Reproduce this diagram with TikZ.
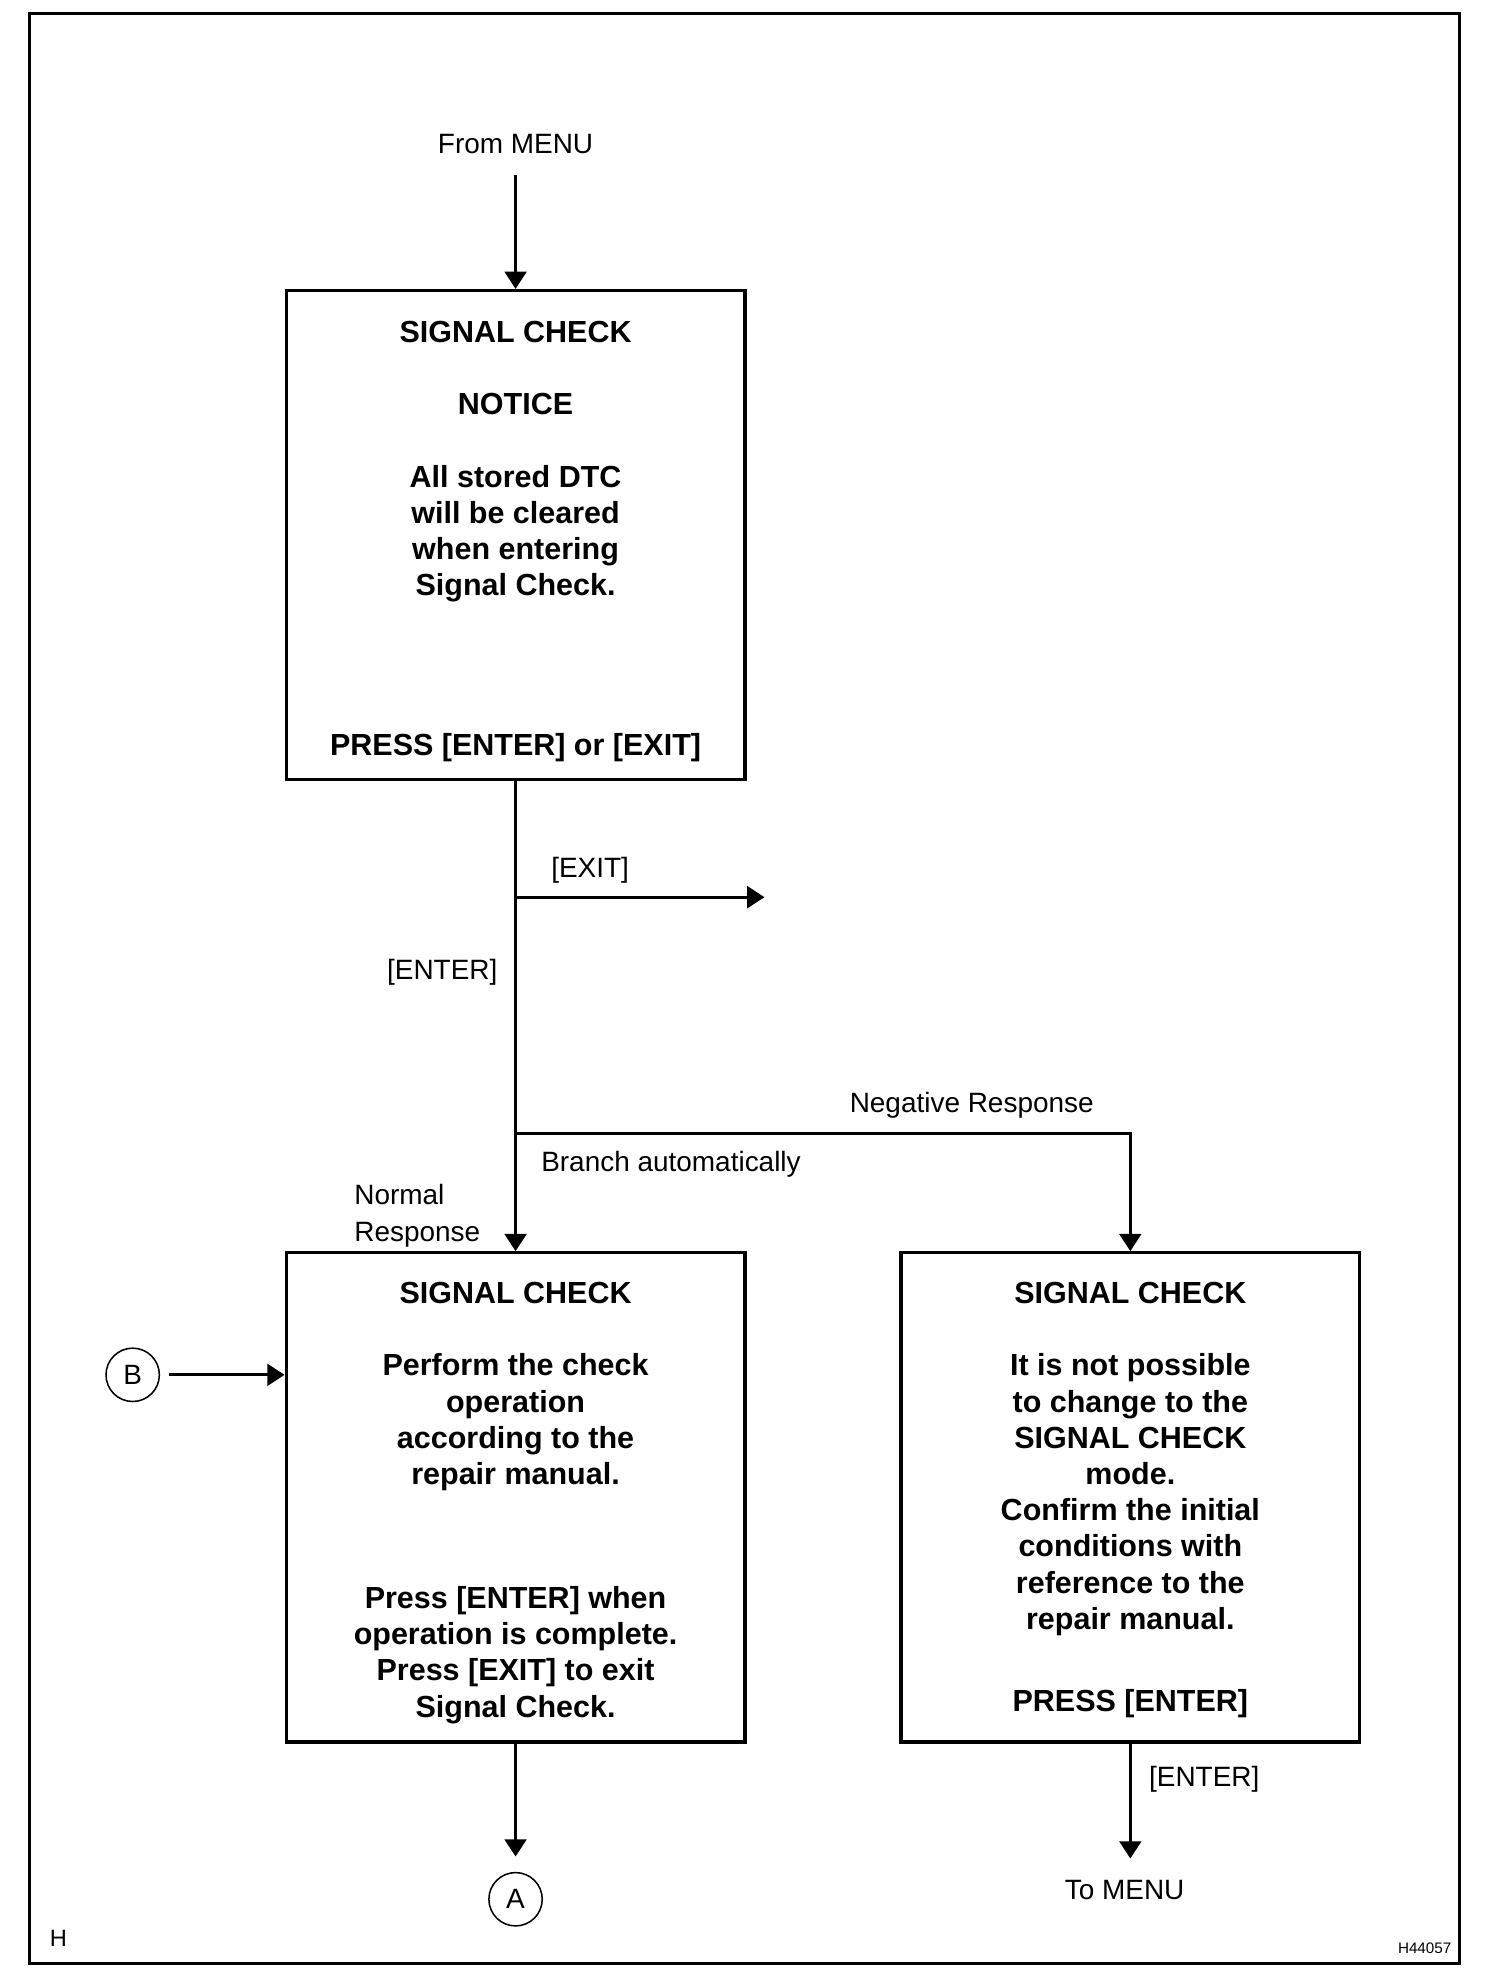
\documentclass[tikz,border=0pt]{standalone}
\usepackage{fontspec}
\setmainfont{Liberation Sans}
\usetikzlibrary{arrows.meta,positioning}

\begin{document}
\begin{tikzpicture}[x=0.4973pt,y=-0.4973pt,
  box/.style={draw, line width=1.3pt, minimum width=180.5pt, minimum height=192.5pt, inner sep=0pt},
  boxtext/.style={align=center, inner sep=0pt, font=\bfseries\fontsize{12}{14.25}\selectfont},
  lbl/.style={inner sep=0pt, font=\fontsize{11}{14.5}\selectfont},
  ref/.style={draw, circle, line width=0.6pt, minimum size=21pt, inner sep=0pt, font=\fontsize{11}{13}\selectfont},
  link/.style={line width=1.3pt, -{Triangle[length=6.8pt,width=8.5pt]}}]
\useasboundingbox (0,0) rectangle (1190.5,1568.5);
\draw[line width=1.2pt] (23.5,11) rectangle (1155,1553.5);

% boxes
\node[box] (notice) at (408,423.5) {};
\node[box] (check) at (408,1185) {};
\node[box] (fail) at (894.5,1185) {};

\node[boxtext, anchor=north] (noticetop) at ([yshift=-12.5pt]notice.north)
  {SIGNAL CHECK\\[14.25pt]NOTICE\\[14.25pt]All stored DTC\\will be cleared\\when entering\\Signal Check.};
\node[boxtext, anchor=south] (noticebot) at ([yshift=7.4pt]notice.south) {PRESS [ENTER] or [EXIT]};
\node[boxtext, anchor=north] (checktop) at ([yshift=-12pt]check.north)
  {SIGNAL CHECK\\[14.25pt]Perform the check\\operation\\according to the\\repair manual.};
\node[boxtext, anchor=south] (checkbot) at ([yshift=7.7pt]check.south)
  {Press [ENTER] when\\operation is complete.\\Press [EXIT] to exit\\Signal Check.};
\node[boxtext, anchor=north] (failtop) at ([yshift=-12pt]fail.north)
  {SIGNAL CHECK\\[14.25pt]It is not possible\\to change to the\\SIGNAL CHECK\\mode.\\Confirm the initial\\conditions with\\reference to the\\repair manual.};
\node[boxtext, anchor=south] (failbot) at ([yshift=10pt]fail.south) {PRESS [ENTER]};

% labels
\node[lbl] (frommenu) at (408,114) {From MENU};
\node[lbl] (exitlbl) at (467,689) {[EXIT]};
\node[lbl] (enterlbl) at (350,769.5) {[ENTER]};
\node[lbl] (neglbl) at (769,875) {Negative Response};
\node[lbl] (branchlbl) at (531,921) {Branch automatically};
\node[lbl, align=left, anchor=west] (normallbl) at (280,962) {Normal\\Response};
\node[lbl] (enter2lbl) at (953,1408) {[ENTER]};
\node[lbl] (tomenu) at (890,1496) {To MENU};
\node[lbl, font=\fontsize{9.3}{11}\selectfont] (hmark) at (46.3,1534) {H};
\node[lbl, font=\fontsize{6}{7}\selectfont, anchor=east] (figno) at (1149,1542) {H44057};

\node[ref] (refB) at (105,1088) {B};
\node[ref] (refA) at (408,1503) {A};

\coordinate (exitfork) at (408,710);
\coordinate (exitend) at (605,710);
\coordinate (negfork) at (408,897);
\coordinate (negturn) at (894.5,897);

% connectors
\draw[link, shorten <=8pt] (frommenu) -- (notice);
\draw[link] (notice) -- (check);
\draw[link] (exitfork) -- (exitend);
\draw[link] (negfork) -- (negturn) -- (fail);
\draw[link, shorten <=3.5pt] (refB) -- (check.west |- refB);
\draw[link, shorten >=6pt] (check) -- (refA);
\draw[link, shorten >=8.5pt] (fail.south) -- (fail.south |- tomenu.north);
\end{tikzpicture}
\end{document}
